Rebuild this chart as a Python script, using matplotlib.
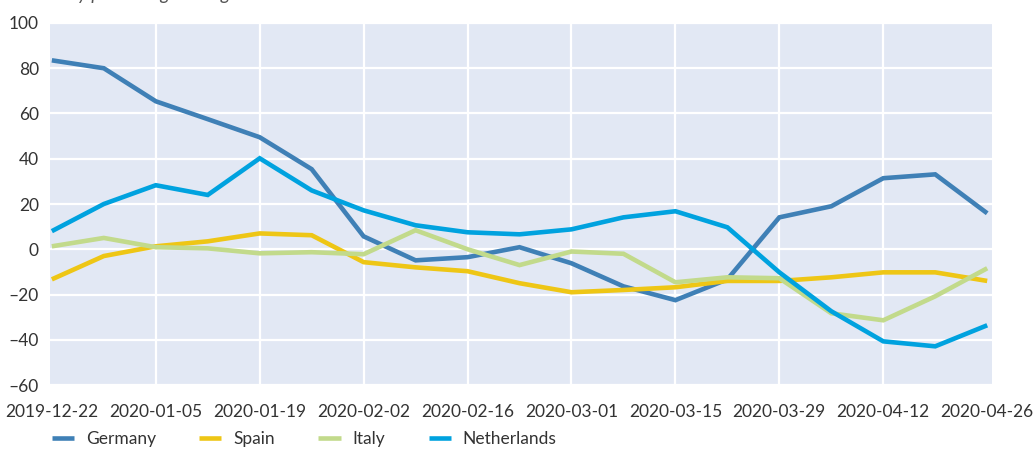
import matplotlib
matplotlib.use("Agg")
import matplotlib.pyplot as plt
import pandas as pd
from matplotlib.lines import Line2D

plt.rcParams["font.family"] = ["Lato", "DejaVu Sans"]

# weekly dates, 2019-12-22 .. 2020-04-26
weeks = pd.date_range("2019-12-22", "2020-04-26", freq="7D")

germany = [83.5, 80, 65.4, 57.5, 49.5, 35.4, 5.7, -4.9, -3.5, 0.9, -6.2,
           -16.4, -22.5, -13.3, 14.1, 19, 31.4, 33.1, 15.9]
spain = [-13.3, -3, 1.3, 3.5, 7, 6.2, -5.7, -8, -9.7, -15, -19,
         -18, -16.8, -14, -14, -12.4, -10.2, -10.2, -14]
italy = [1.3, 5, 0.9, 0.4, -1.8, -1.3, -2.2, 8.4, 0, -7, -1,
         -2, -14.6, -12.4, -12.8, -28.3, -31.4, -20.8, -8.4]
netherlands = [8, 20, 28.3, 24, 40.2, 26, 17.2, 10.6, 7.5, 6.6, 8.8,
               14.1, 16.8, 9.7, -10.2, -27.4, -40.7, -42.9, -33.6]

series = [
    ("Germany", germany, "#3f80b6"),
    ("Spain", spain, "#eec615"),
    ("Italy", italy, "#c2da8b"),
    ("Netherlands", netherlands, "#00a2df"),
]

y_ticks = list(range(-60, 101, 20))
x_ticks = weeks[::2]

BG = "#e2e8f4"
TXT = "#333333"

fig = plt.figure(figsize=(10.35, 4.49), dpi=100)
ax = fig.add_axes([0.0483, 0.1425, 0.9097, 0.8063])
ax.set_facecolor(BG)

for name, vals, col in series:
    ax.plot(weeks, vals, color=col, lw=3.3, solid_capstyle="butt",
            solid_joinstyle="miter", label=name, zorder=3)

ax.set_ylim(-60, 100)
ax.set_yticks(y_ticks)
ax.set_yticklabels([str(v).replace("-", "\u2013") for v in y_ticks])
ax.set_xlim(weeks[0] - pd.Timedelta(hours=6), weeks[-1] + pd.Timedelta(hours=14))
ax.set_xticks(x_ticks)
ax.set_xticklabels([d.strftime("%Y-%m-%d") for d in x_ticks])

ax.grid(True, color="white", lw=1.6, zorder=1)
ax.set_axisbelow(True)
# no vertical rules on the plot edges
xgl = ax.get_xgridlines()
xgl[0].set_visible(False)
xgl[-1].set_visible(False)
for s in ax.spines.values():
    s.set_visible(False)
ax.tick_params(length=0, labelsize=12.5, colors=TXT)
ax.tick_params(axis="x", pad=14)
ax.tick_params(axis="y", pad=8)

# subtitle sits above the visible area, only descenders show
fig.text(0.028, 1.0, "Weekly percentage change", fontsize=13.5, style="italic",
         color="#555555", va="baseline", ha="left")

handles = [Line2D([], [], color=c, lw=3.3, solid_capstyle="butt") for _, _, c in series]
fig.legend(handles, [n for n, _, _ in series], loc="lower left",
           bbox_to_anchor=(0.035, -0.03), ncol=4, frameon=False,
           fontsize=12.5, handlelength=1.27, handletextpad=0.69,
           columnspacing=2.5, labelcolor=TXT)

fig.savefig("out.png", dpi=100, facecolor="white")
